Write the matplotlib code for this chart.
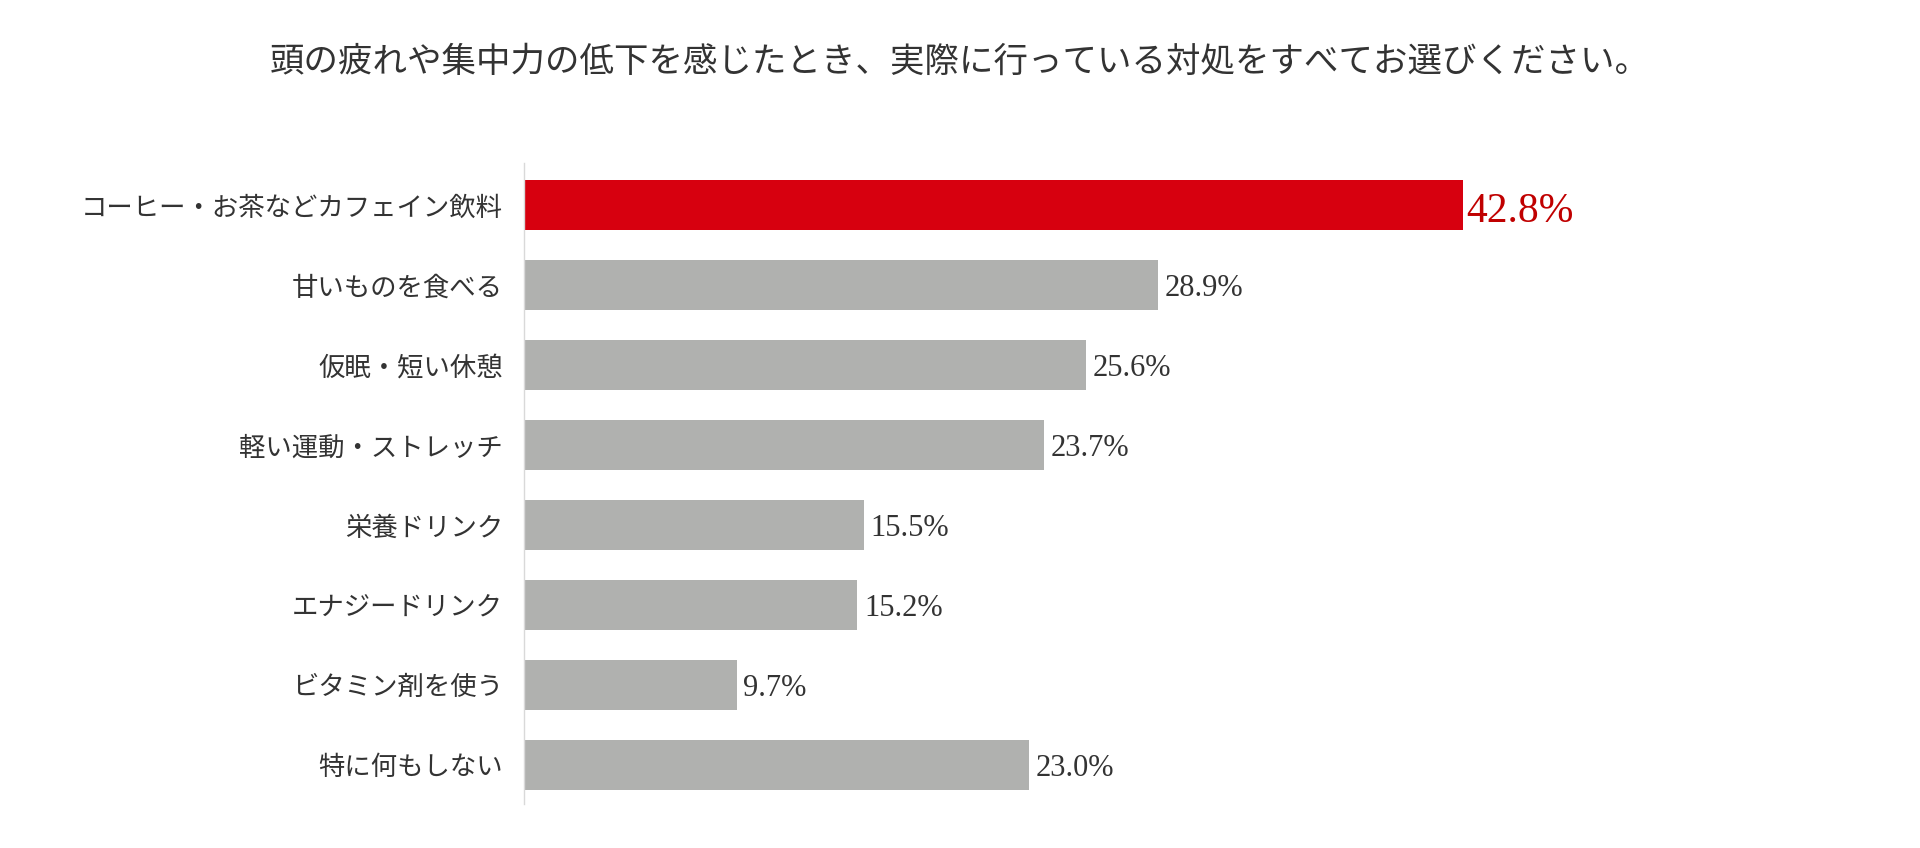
import matplotlib
matplotlib.use("Agg")
import matplotlib.pyplot as plt

plt.rcParams['font.family'] = ['Noto Sans CJK JP', 'DejaVu Sans']

title = "頭の疲れや集中力の低下を感じたとき、実際に行っている対処をすべてお選びください。"
labels = ["コーヒー・お茶などカフェイン飲料", "甘いものを食べる", "仮眠・短い休憩",
          "軽い運動・ストレッチ", "栄養ドリンク", "エナジードリンク",
          "ビタミン剤を使う", "特に何もしない"]
values = [42.8, 28.9, 25.6, 23.7, 15.5, 15.2, 9.7, 23.0]

red = "#D7000F"
gray = "#B0B1AF"
text_col = "#333333"

fig = plt.figure(figsize=(19.2, 8.48), dpi=100)
ax = fig.add_axes([524 / 1920, 44 / 848, (60 * 21.94) / 1920, 641 / 848])

ypos = list(range(len(labels)))
colors = [red] + [gray] * (len(labels) - 1)
ax.barh(ypos, values, height=0.63, color=colors, zorder=2)

for i, v in enumerate(values):
    if i == 0:
        ax.text(v + 0.15, i + 0.03, f"{v:.1f}%", va="center_baseline", ha="left",
                fontsize=30, color="#C00000", family="Liberation Serif")
    else:
        ax.text(v + 0.3, i, f"{v:.1f}%", va="center_baseline", ha="left",
                fontsize=22, color=text_col, family="Liberation Serif")

ax.set_xlim(0, 60)
ax.set_ylim(7.49, -0.525)
ax.set_yticks(ypos)
ax.set_yticklabels(labels, fontsize=19, color=text_col)
ax.tick_params(axis="y", length=0, pad=15)
ax.set_xticks([])
for s in ["top", "right", "bottom"]:
    ax.spines[s].set_visible(False)
ax.spines["left"].set_color("#D9D9D9")
ax.spines["left"].set_linewidth(1)

fig.text(0.5, 1 - 62 / 848, title, ha="center", va="center",
         fontsize=24.8, color=text_col)

fig.savefig("out.png", dpi=100, facecolor="white")
